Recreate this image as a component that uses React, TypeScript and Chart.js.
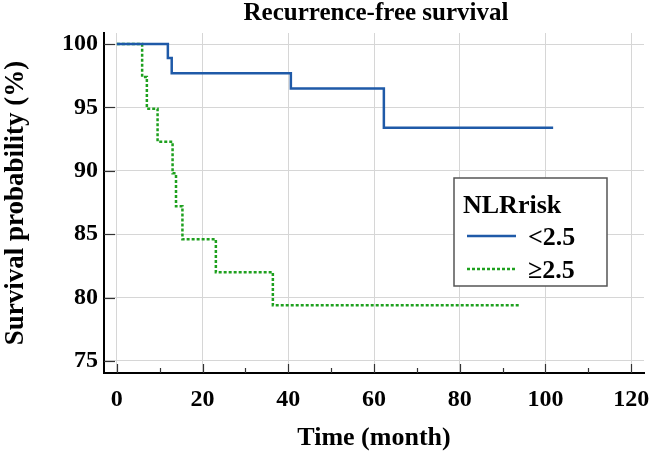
import React, { useEffect, useRef } from "react";
import { Chart, registerables } from "chart.js";

Chart.register(...registerables);

const chartTitle = "Recurrence-free survival";
const xTitle = "Time (month)";
const yTitle = "Survival probability (%)";
const legendTitle = "NLRrisk";

const groupLabels = ["<2.5", "≥2.5"];

const lowTimes = [0, 11.9, 12.8, 40.6, 62.3, 101.8];
const lowSurv = [100, 98.9, 97.7, 96.5, 93.4, 93.4];

const highTimes = [0, 5.9, 7.0, 9.5, 13.0, 13.8, 15.3, 23.1, 36.4, 94.0];
const highSurv = [100, 97.4, 94.9, 92.3, 89.8, 87.2, 84.6, 82.0, 79.4, 79.4];

const xTickValues = [0, 20, 40, 60, 80, 100, 120];
const xMinorTickValues = [10, 30, 50, 70, 90, 110];
const yTickValues = [75, 80, 85, 90, 95, 100];

const FONT = "'Liberation Serif', 'Times New Roman', serif";

const tickMarksPlugin = {
  id: "tickMarks",
  afterDatasetsDraw(chart: any) {
    const ctx = chart.ctx;
    const xs = chart.scales.x;
    const ys = chart.scales.y;
    const area = chart.chartArea;
    ctx.save();
    ctx.strokeStyle = "#333";
    ctx.lineWidth = 1.2;
    xTickValues.forEach((v) => {
      const px = Math.round(xs.getPixelForValue(v)) + 0.5;
      ctx.beginPath();
      ctx.moveTo(px, area.bottom);
      ctx.lineTo(px, area.bottom - 9);
      ctx.stroke();
    });
    xMinorTickValues.forEach((v) => {
      const px = Math.round(xs.getPixelForValue(v)) + 0.5;
      ctx.beginPath();
      ctx.moveTo(px, area.bottom);
      ctx.lineTo(px, area.bottom - 5);
      ctx.stroke();
    });
    yTickValues.forEach((v) => {
      const py = Math.round(ys.getPixelForValue(v)) + 0.5;
      ctx.beginPath();
      ctx.moveTo(area.left, py);
      ctx.lineTo(area.left + 11, py);
      ctx.stroke();
    });
    ctx.restore();
  },
};

const titlePlugin = {
  id: "centeredTitle",
  afterDraw(chart: any) {
    const ctx = chart.ctx;
    const area = chart.chartArea;
    ctx.save();
    ctx.fillStyle = "#000";
    ctx.textAlign = "center";
    ctx.textBaseline = "middle";
    ctx.font = `bold 25px ${FONT}`;
    ctx.fillText(chartTitle, (area.left + area.right) / 2 + 2, 14);
    ctx.restore();
  },
};

const boxLegendPlugin = {
  id: "boxLegend",
  afterDraw(chart: any) {
    const ctx = chart.ctx;
    const left = 454;
    const top = 178;
    const w = 153;
    const h = 108;
    ctx.save();
    ctx.fillStyle = "#ffffff";
    ctx.fillRect(left, top, w, h);
    ctx.strokeStyle = "#555";
    ctx.lineWidth = 1.5;
    ctx.strokeRect(left, top, w, h);
    ctx.fillStyle = "#000";
    ctx.textBaseline = "middle";
    ctx.textAlign = "left";
    ctx.font = `bold 26px ${FONT}`;
    ctx.fillText(legendTitle, left + 9, top + 28);
    chart.data.datasets.forEach((ds: any, i: number) => {
      const y = top + 58 + i * 33;
      ctx.save();
      ctx.strokeStyle = ds.borderColor;
      ctx.lineWidth = ds.borderWidth;
      ctx.setLineDash(ds.borderDash || []);
      ctx.beginPath();
      ctx.moveTo(left + 13, y);
      ctx.lineTo(left + 62, y);
      ctx.stroke();
      ctx.restore();
      ctx.fillStyle = "#000";
      ctx.font = `bold 26px ${FONT}`;
      ctx.fillText(ds.label, left + 74, y + 2);
    });
    ctx.restore();
  },
};

export default function App() {
  const ref = useRef<HTMLCanvasElement>(null);
  useEffect(() => {
    if (!ref.current) return;
    const chart = new Chart(ref.current, {
      type: "line",
      data: {
        datasets: [
          {
            label: groupLabels[0],
            data: lowTimes.map((t, i) => ({ x: t, y: lowSurv[i] })),
            borderColor: "#1f5aa8",
            borderWidth: 2.5,
            stepped: "before",
            pointRadius: 0,
            fill: false,
          },
          {
            label: groupLabels[1],
            data: highTimes.map((t, i) => ({ x: t, y: highSurv[i] })),
            borderColor: "#1ea01e",
            borderWidth: 2.5,
            borderDash: [3, 2],
            stepped: "before",
            pointRadius: 0,
            fill: false,
          },
        ],
      },
      options: {
        responsive: false,
        animation: false,
        layout: { padding: { left: 0, right: 7, top: 33, bottom: 0 } },
        plugins: {
          legend: { display: false },
          tooltip: { enabled: false },
          title: { display: false },
        },
        scales: {
          x: {
            type: "linear",
            min: -3,
            max: 123,
            afterBuildTicks: (scale: any) => {
              scale.ticks = xTickValues.map((v) => ({ value: v }));
            },
            afterFit: (scale: any) => {
              scale.height = 81;
              scale.paddingLeft = 0;
              scale.paddingRight = 0;
            },
            grid: { color: "#d6d6d6", lineWidth: 1, drawTicks: false },
            border: { display: true, color: "#000", width: 2 },
            ticks: {
              color: "#000",
              padding: 12,
              maxRotation: 0,
              font: { family: FONT, size: 24, weight: "bold" },
            },
            title: {
              display: true,
              text: xTitle,
              color: "#000",
              font: { family: FONT, size: 26, weight: "bold" },
              padding: { top: 0, bottom: 0 },
            },
          },
          y: {
            type: "linear",
            min: 74.05,
            max: 100.87,
            afterBuildTicks: (scale: any) => {
              scale.ticks = yTickValues.map((v) => ({ value: v }));
            },
            afterFit: (scale: any) => {
              scale.width = 104;
              scale.paddingTop = 0;
              scale.paddingBottom = 0;
            },
            grid: { color: "#d6d6d6", lineWidth: 1, drawTicks: false },
            border: { display: true, color: "#000", width: 2 },
            ticks: {
              color: "#000",
              padding: 6,
              font: { family: FONT, size: 24, weight: "bold" },
            },
            title: {
              display: true,
              text: yTitle,
              color: "#000",
              font: { family: FONT, size: 27, weight: "bold" },
              padding: { top: 0, bottom: 0 },
            },
          },
        },
      },
      plugins: [tickMarksPlugin, boxLegendPlugin, titlePlugin],
    });
    return () => chart.destroy();
  }, []);
  return (
    <div style={{ position: "fixed", left: 0, top: 0, width: 651, height: 454, background: "#fff" }}>
      <canvas ref={ref} width={651} height={454} style={{ display: "block" }} />
    </div>
  );
}
